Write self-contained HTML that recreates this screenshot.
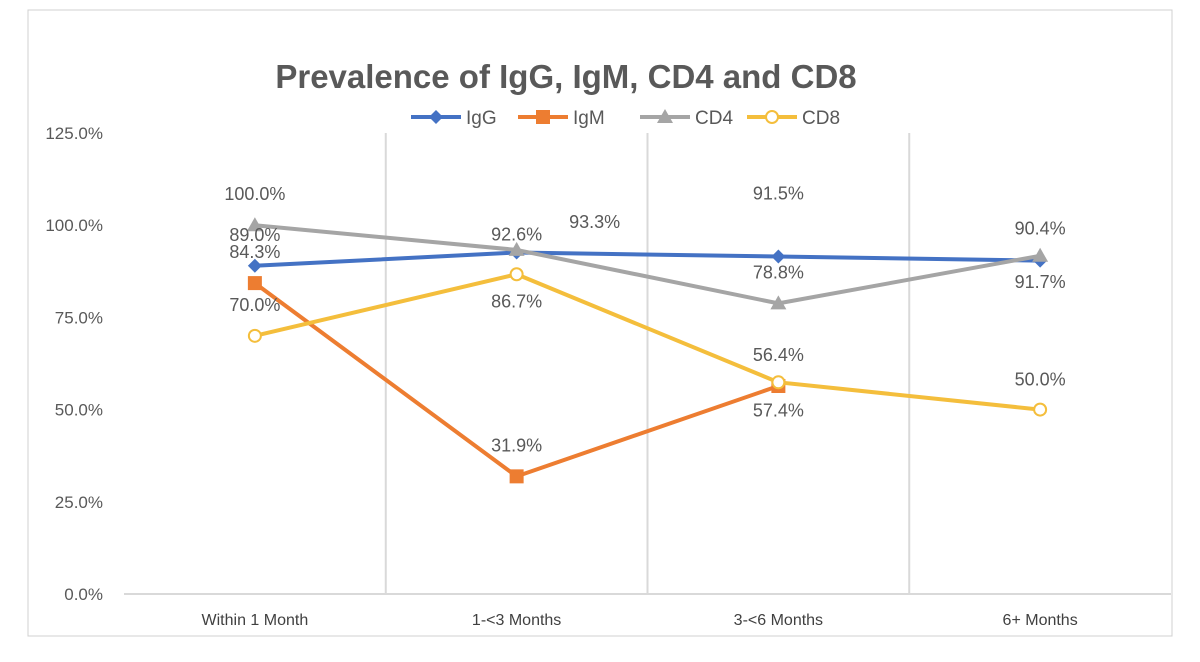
<!DOCTYPE html>
<html><head><meta charset="utf-8"><style>
body{margin:0;background:#fff;}
svg{display:block;font-family:"Liberation Sans",sans-serif;}
</style></head><body>
<svg id="chart" width="1200" height="662">
<rect x="28" y="10" width="1144" height="626" fill="#fff" stroke="#d0d0d0"/>
<text x="566" y="88" text-anchor="middle" font-size="33" font-weight="bold" fill="#595959">Prevalence of IgG, IgM, CD4 and CD8</text>
<g id="grid"></g><g id="axes"></g><g id="series"></g><g id="labels"></g><g id="legend"></g>
</svg>
<script>
const categories=["Within 1 Month","1-<3  Months","3-<6  Months","6+ Months"];
const yTicks=[0,25,50,75,100,125];
const seriesNames=["IgG","IgM","CD4","CD8"];
const igg=[89.0,92.6,91.5,90.4];
const igm=[84.3,31.9,56.4,null];
const cd4=[100.0,93.3,78.8,91.7];
const cd8=[70.0,86.7,57.4,50.0];
const colors=["#4472c4","#ed7d31","#a5a5a5","#f4be3c"];
const labelOff=[[[0,-25],[0,-12],[0,-57],[0,-26]],[[0,-25],[0,-25],[0,-25],null],[[0,-25],[78,-22],[0,-25],[0,32]],[[0,-25],[0,33],[0,34],[0,-24]]];
const NS="http://www.w3.org/2000/svg";
const X0=124,X1=1171,Y0=594,Y1=133;
const band=(X1-X0)/categories.length;
const x=i=>X0+band*(i+0.5);
const y=v=>Y0-(v/125)*(Y0-Y1);
function mk(t,a,p){const e=document.createElementNS(NS,t);for(const k in a)e.setAttribute(k,a[k]);p.appendChild(e);return e;}
const grid=document.getElementById('grid'),axes=document.getElementById('axes');
for(let i=1;i<categories.length;i++){const l=mk('line',{x1:X0+band*i,x2:X0+band*i,y1:Y1,y2:Y0,stroke:'#d9d9d9','stroke-width':2},grid);

}
const xa=mk('line',{x1:X0,x2:X1,y1:Y0,y2:Y0,stroke:'#d9d9d9','stroke-width':2},axes);


yTicks.forEach(v=>{const t=mk('text',{x:103,y:y(v)+6,'text-anchor':'end','font-size':17,fill:'#595959'},axes);t.textContent=v.toFixed(1)+'%';

});
categories.forEach((c,i)=>{const t=mk('text',{x:x(i),y:625,'text-anchor':'middle','font-size':16,fill:'#404040','xml:space':'preserve'},axes);t.textContent=c;

});
const sg=document.getElementById('series'),lg=document.getElementById('labels');
function marker(k,cx,cy,p){const c=colors[k];let m;
if(k===0)m=mk('polygon',{points:`${cx},${cy-7} ${cx+7},${cy} ${cx},${cy+7} ${cx-7},${cy}`,fill:c},p);
else if(k===1)m=mk('rect',{x:cx-7,y:cy-7,width:14,height:14,fill:c},p);
else if(k===2)m=mk('polygon',{points:`${cx},${cy-8} ${cx+8},${cy+6} ${cx-8},${cy+6}`,fill:c},p);
else m=mk('circle',{cx:cx,cy:cy,r:6,fill:'#fff',stroke:c,'stroke-width':2},p);return m;}
[igg,igm,cd4,cd8].forEach((d,k)=>{
let pts=[];d.forEach((v,i)=>{if(v!=null)pts.push(x(i)+','+y(v));});
const pl=mk('polyline',{points:pts.join(' '),fill:'none',stroke:colors[k],'stroke-width':4,'stroke-linejoin':'round'},sg);


d.forEach((v,i)=>{if(v==null)return;
const m=marker(k,x(i),y(v),sg);


const o=labelOff[k][i];
const t=mk('text',{x:x(i)+o[0],y:y(v)+o[1],'text-anchor':'middle','font-size':18,fill:'#595959'},lg);t.textContent=v.toFixed(1)+'%';

});
});
const leg=document.getElementById('legend');const lx=[411,518,640,747];
seriesNames.forEach((n,k)=>{const g=mk('g',{},leg);


mk('line',{x1:lx[k],x2:lx[k]+50,y1:117,y2:117,stroke:colors[k],'stroke-width':4},g);
marker(k,lx[k]+25,117,g);
const t=mk('text',{x:lx[k]+55,y:124,'font-size':19,fill:'#595959'},g);t.textContent=n;});
</script>
</body></html>
